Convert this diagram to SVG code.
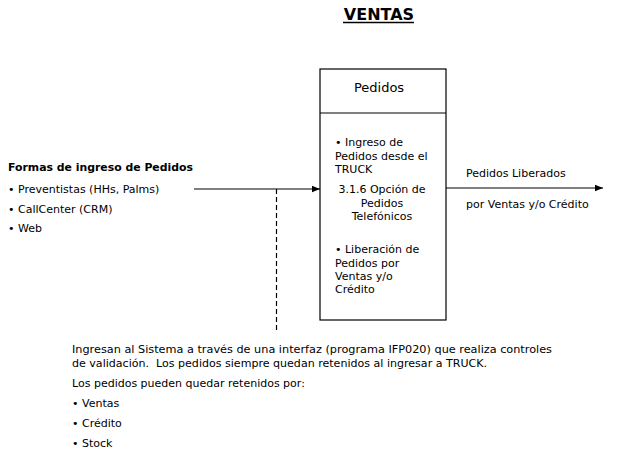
<svg xmlns="http://www.w3.org/2000/svg" width="640" height="453" viewBox="0 0 640 453">
<defs>
<style>
text{font-family:"DejaVu Sans","Liberation Sans",sans-serif;font-size:11px;fill:#000}
.b{font-weight:bold}
.c{text-anchor:middle}
.ln{stroke:#000;stroke-width:1.2;fill:none}
</style>
<marker id="ar" viewBox="0 0 10 10" refX="10" refY="5" markerWidth="8" markerHeight="8" markerUnits="userSpaceOnUse" orient="auto"><path d="M0,1 L10,5 L0,9 z" fill="#000"/></marker>
</defs>
<rect width="640" height="453" fill="#fff"/>
<g id="title">
<text x="379" y="20" class="b c" style="font-size:16px">VENTAS</text>
<line x1="343" y1="22.5" x2="414" y2="22.5" stroke="#000" stroke-width="1.5"/>
</g>
<g id="formas">
<text x="8" y="171" class="b" textLength="185" lengthAdjust="spacingAndGlyphs">Formas de ingreso de Pedidos</text>
<text x="8" y="193">• Preventistas (HHs, Palms)</text>
<text x="8" y="213">• CallCenter (CRM)</text>
<text x="8" y="232">• Web</text>
</g>
<g id="pedidos">
<rect x="320" y="69" width="126" height="251" class="ln"/>
<line x1="320" y1="113" x2="446" y2="113" class="ln"/>
<text x="379" y="92" class="c" style="font-size:13px">Pedidos</text>
<text x="335" y="146">• Ingreso de</text>
<text x="335" y="160">Pedidos desde el</text>
<text x="335" y="173">TRUCK</text>
<text x="382" y="193" class="c">3.1.6 Opción de</text>
<text x="382" y="207" class="c">Pedidos</text>
<text x="382" y="220" class="c">Telefónicos</text>
<text x="335" y="253">• Liberación de</text>
<text x="335" y="267">Pedidos por</text>
<text x="335" y="280">Ventas y/o</text>
<text x="335" y="293">Crédito</text>
</g>
<g id="connectors">
<line x1="194" y1="189" x2="320" y2="189" class="ln" marker-end="url(#ar)"/>
<line x1="276.5" y1="189" x2="276.5" y2="332" class="ln" stroke-dasharray="5,3"/>
<line x1="446" y1="188" x2="603" y2="188" class="ln" marker-end="url(#ar)"/>
</g>
<g id="liberados">
<text x="466" y="177">Pedidos Liberados</text>
<text x="466" y="208">por Ventas y/o Crédito</text>
</g>
<g id="notas">
<text x="72" y="353" textLength="480" lengthAdjust="spacingAndGlyphs">Ingresan al Sistema a través de una interfaz (programa IFP020) que realiza controles</text>
<text x="72" y="367" textLength="415" lengthAdjust="spacingAndGlyphs">de validación.&#160; Los pedidos siempre quedan retenidos al ingresar a TRUCK.</text>
<text x="72" y="387">Los pedidos pueden quedar retenidos por:</text>
<text x="72" y="407">• Ventas</text>
<text x="72" y="427">• Crédito</text>
<text x="72" y="447">• Stock</text>
</g>
</svg>
